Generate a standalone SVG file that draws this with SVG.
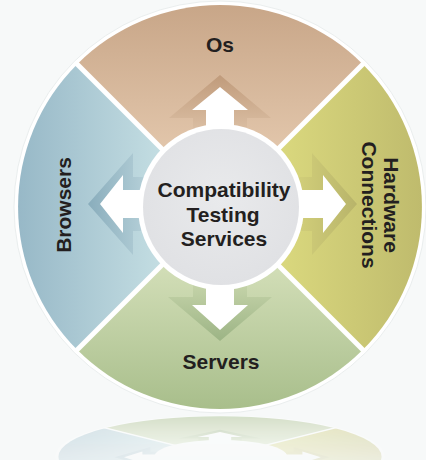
<svg xmlns="http://www.w3.org/2000/svg" xmlns:xlink="http://www.w3.org/1999/xlink" width="426" height="460" viewBox="0 0 426 460">
<style>
.lbl{font-family:"Liberation Sans",Arial,"DejaVu Sans",sans-serif;font-weight:bold;font-size:21px;fill:#231f20;text-anchor:middle}
.div{stroke:#ffffff;stroke-width:5;fill:none}
.wa{fill:#ffffff}
</style>
<defs>
<path id="sh-os" d="M220,207 L77.2,64.2 A202,202 0 0 1 362.8,64.2 Z"/>
<path id="sh-hw" d="M220,207 L362.8,64.2 A202,202 0 0 1 362.8,349.8 Z"/>
<path id="sh-sv" d="M220,207 L362.8,349.8 A202,202 0 0 1 77.2,349.8 Z"/>
<path id="sh-br" d="M220,207 L77.2,349.8 A202,202 0 0 1 77.2,64.2 Z"/>
<polygon id="ash-up" points="220,75 271,118 247,118 247,140 193,140 193,118 169,118"/>
<polygon id="aw-up" points="220,87 248,110 234,110 234,140 206,140 206,110 192,110"/>
<polygon id="ash-dn" points="220,341 272,297 247,297 247,275 193,275 193,297 168,297"/>
<polygon id="aw-dn" points="220,330 248,305 234,305 234,275 206,275 206,305 192,305"/>
<polygon id="ash-lf" points="88,204 133,153 133,177 160,177 160,231 133,231 133,255"/>
<polygon id="aw-lf" points="100,204 123,175 123,190 160,190 160,218 123,218 123,233"/>
<polygon id="ash-rt" points="357,204 312,153 312,177 285,177 285,231 312,231 312,255"/>
<polygon id="aw-rt" points="346,204 323,175 323,190 285,190 285,218 323,218 323,233"/>
<linearGradient id="g-os" gradientUnits="userSpaceOnUse" x1="0" y1="5" x2="0" y2="150"><stop offset="0" stop-color="#c8a688"/><stop offset="1" stop-color="#e2c6ab"/></linearGradient>
<linearGradient id="g-br" gradientUnits="userSpaceOnUse" x1="17" y1="0" x2="160" y2="0"><stop offset="0" stop-color="#97b8c7"/><stop offset="1" stop-color="#c3dde2"/></linearGradient>
<linearGradient id="g-hw" gradientUnits="userSpaceOnUse" x1="285" y1="0" x2="422" y2="0"><stop offset="0" stop-color="#d9d77d"/><stop offset="1" stop-color="#bfbb6d"/></linearGradient>
<linearGradient id="g-sv" gradientUnits="userSpaceOnUse" x1="0" y1="270" x2="0" y2="410"><stop offset="0" stop-color="#d1ddb6"/><stop offset="1" stop-color="#a8be8b"/></linearGradient>
<linearGradient id="s-up" gradientUnits="userSpaceOnUse" x1="0" y1="75" x2="0" y2="132"><stop offset="0" stop-color="#c09b7b"/><stop offset="1" stop-color="#dbbfa4"/></linearGradient>
<linearGradient id="s-dn" gradientUnits="userSpaceOnUse" x1="0" y1="341" x2="0" y2="282"><stop offset="0" stop-color="#9cb485"/><stop offset="1" stop-color="#c6d4aa"/></linearGradient>
<linearGradient id="s-lf" gradientUnits="userSpaceOnUse" x1="88" y1="0" x2="150" y2="0"><stop offset="0" stop-color="#89adbc"/><stop offset="1" stop-color="#b8d2da"/></linearGradient>
<linearGradient id="s-rt" gradientUnits="userSpaceOnUse" x1="357" y1="0" x2="292" y2="0"><stop offset="0" stop-color="#b8b46a"/><stop offset="1" stop-color="#d4d17b"/></linearGradient>
<radialGradient id="g-c" cx="0.5" cy="0.45" r="0.55"><stop offset="0" stop-color="#e9eaec"/><stop offset="1" stop-color="#e0e1e4"/></radialGradient>
<linearGradient id="rfade" gradientUnits="userSpaceOnUse" x1="0" y1="414" x2="0" y2="460"><stop offset="0" stop-color="#ffffff" stop-opacity="0.45"/><stop offset="1" stop-color="#ffffff" stop-opacity="0.2"/></linearGradient>
<mask id="rmask" maskUnits="userSpaceOnUse" x="0" y="412" width="426" height="48"><rect x="0" y="412" width="426" height="48" fill="url(#rfade)"/></mask>
</defs>
<rect x="0" y="0" width="426" height="460" fill="#f7f9f9"/>
<circle cx="220" cy="207" r="206" fill="#ffffff" stroke="#eaeeee" stroke-width="1"/>
<g id="node-os"><use xlink:href="#sh-os" fill="url(#g-os)"/><text class="lbl" x="220" y="52">Os</text></g>
<g id="node-hardware"><use xlink:href="#sh-hw" fill="url(#g-hw)"/><text class="lbl" transform="translate(384,205) rotate(90)">Hardware</text><text class="lbl" transform="translate(362,205) rotate(90)">Connections</text></g>
<g id="node-servers"><use xlink:href="#sh-sv" fill="url(#g-sv)"/><text class="lbl" x="221" y="369">Servers</text></g>
<g id="node-browsers"><use xlink:href="#sh-br" fill="url(#g-br)"/><text class="lbl" transform="translate(71,205) rotate(-90)">Browsers</text></g>
<g id="dividers"><line class="div" x1="75" y1="62" x2="365" y2="352"/><line class="div" x1="365" y1="62" x2="75" y2="352"/></g>
<g id="connectors">
<use xlink:href="#ash-up" fill="url(#s-up)"/><use xlink:href="#aw-up" class="wa"/>
<use xlink:href="#ash-dn" fill="url(#s-dn)"/><use xlink:href="#aw-dn" class="wa"/>
<use xlink:href="#ash-lf" fill="url(#s-lf)"/><use xlink:href="#aw-lf" class="wa"/>
<use xlink:href="#ash-rt" fill="url(#s-rt)"/><use xlink:href="#aw-rt" class="wa"/>
</g>
<g id="node-center"><circle cx="221" cy="207" r="83" fill="#ffffff"/><circle cx="221" cy="207" r="78" fill="url(#g-c)"/>
<text class="lbl" x="224" y="197">Compatibility</text><text class="lbl" x="223" y="222">Testing</text><text class="lbl" x="224" y="246">Services</text></g>
<g id="reflection" mask="url(#rmask)"><g transform="matrix(0.8,0,0,-0.2,44,498)">
<circle cx="220" cy="207" r="206" fill="#ffffff"/>
<use xlink:href="#sh-hw" fill="url(#g-hw)"/><use xlink:href="#sh-sv" fill="url(#g-sv)"/><use xlink:href="#sh-br" fill="url(#g-br)"/>
<line class="div" x1="75" y1="62" x2="365" y2="352"/><line class="div" x1="365" y1="62" x2="75" y2="352"/>
<use xlink:href="#ash-dn" fill="url(#s-dn)"/><use xlink:href="#aw-dn" class="wa"/>
<use xlink:href="#ash-lf" fill="url(#s-lf)"/><use xlink:href="#aw-lf" class="wa"/>
<use xlink:href="#ash-rt" fill="url(#s-rt)"/><use xlink:href="#aw-rt" class="wa"/>
<circle cx="221" cy="207" r="83" fill="#ffffff"/>
</g></g>
</svg>
